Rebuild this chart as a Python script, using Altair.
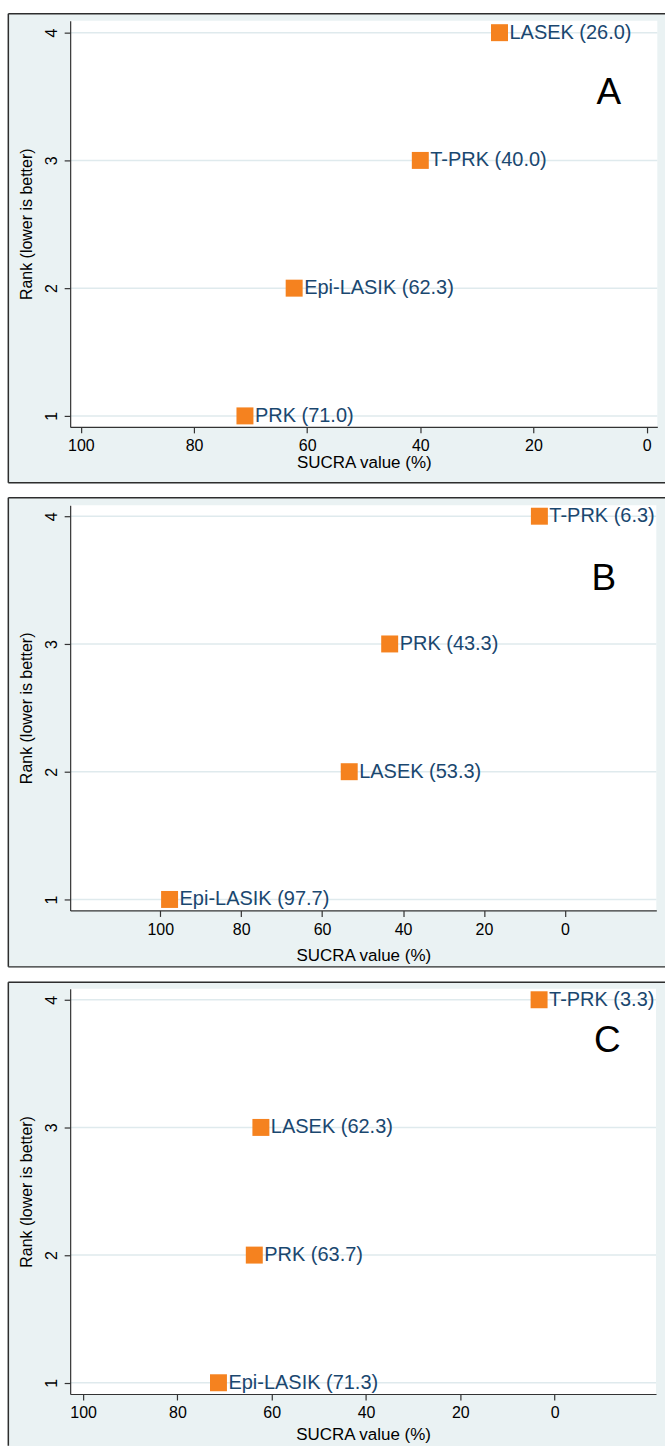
import altair as alt
import pandas as pd

# SUCRA value (%) and rank of each treatment, one set per outcome panel
treat_a = ["PRK", "Epi-LASIK", "T-PRK", "LASEK"]
sucra_a = [71.0, 62.3, 40.0, 26.0]
rank_a = [1, 2, 3, 4]

treat_b = ["Epi-LASIK", "LASEK", "PRK", "T-PRK"]
sucra_b = [97.7, 53.3, 43.3, 6.3]
rank_b = [1, 2, 3, 4]

treat_c = ["Epi-LASIK", "PRK", "LASEK", "T-PRK"]
sucra_c = [71.3, 63.7, 62.3, 3.3]
rank_c = [1, 2, 3, 4]

x_ticks = [0, 20, 40, 60, 80, 100]
y_ticks = [1, 2, 3, 4]

FONT = "Liberation Sans"
BG = "#eaf2f3"
GRID = "#dfeaed"
ORANGE = "#f5821f"
NAVY = "#1a476f"
FRAME = "#2e2e2e"
AXIS = "#333333"

one = alt.Data(values=[{}])


def panel(letter, names, vals, ranks, W, H, xdom, ydom, frame, letter_xy,
          x_title_pad, bottom_edge=True):
    L, T, R, B = frame
    df = pd.DataFrame({"treatment": names, "sucra": vals, "rank": ranks})
    df["label"] = [f"{n} ({v:.1f})" for n, v in zip(names, vals)]

    x_enc = alt.X(
        "sucra:Q",
        scale=alt.Scale(domain=xdom, reverse=True, nice=False, zero=False),
        axis=alt.Axis(values=x_ticks, title="SUCRA value (%)", labelFontSize=16,
                      titleFontSize=17, labelPadding=5, titlePadding=x_title_pad,
                      zindex=2, grid=False),
    )
    y_enc = alt.Y(
        "rank:Q",
        scale=alt.Scale(domain=ydom, nice=False, zero=False),
        axis=alt.Axis(values=y_ticks, format="d", title="Rank (lower is better)",
                      labelAngle=270, labelFontSize=16, titleFontSize=16,
                      labelPadding=5, titlePadding=9, zindex=2, grid=False),
    )

    # graph region behind the whole panel
    bg = alt.Chart(one).mark_rect(fill=BG, strokeWidth=0).encode(
        x=alt.value(-L), x2=alt.value(W + R), y=alt.value(-T), y2=alt.value(H + B)
    )
    # white plot region
    plot_bg = alt.Chart(one).mark_rect(fill="white", strokeWidth=0).encode(
        x=alt.value(0), x2=alt.value(W), y=alt.value(0), y2=alt.value(H)
    )
    # outline of the graph region
    edges = [
        alt.Chart(one).mark_rule(color=FRAME, strokeWidth=1.5).encode(
            x=alt.value(-L + 0.75), y=alt.value(-T + 0.75), y2=alt.value(H + B - 0.75)
        ),
        alt.Chart(one).mark_rule(color=FRAME, strokeWidth=1.5).encode(
            x=alt.value(-L + 0.75), x2=alt.value(W + R), y=alt.value(-T + 0.75)
        ),
    ]
    if bottom_edge:
        edges.append(
            alt.Chart(one).mark_rule(color=FRAME, strokeWidth=1.5).encode(
                x=alt.value(-L + 0.75), x2=alt.value(W + R), y=alt.value(H + B - 0.75)
            )
        )
    grid = alt.Chart(df).mark_rule(color=GRID, strokeWidth=1.5).encode(
        y=y_enc, x=alt.value(0), x2=alt.value(W)
    )
    points = alt.Chart(df).mark_point(
        shape="square", filled=True, size=289, color=ORANGE, opacity=1
    ).encode(x=x_enc, y=y_enc)
    labels = alt.Chart(df).mark_text(
        align="left", baseline="middle", dx=10, fontSize=20, font=FONT, color=NAVY
    ).encode(x=x_enc, y=y_enc, text="label:N")
    tag = alt.Chart(one).mark_text(
        text=letter, fontSize=37, font=FONT, color="black", align="center", baseline="middle"
    ).encode(x=alt.value(letter_xy[0]), y=alt.value(letter_xy[1]))

    return alt.layer(bg, plot_bg, *edges, grid, points, labels, tag).properties(
        width=W, height=H
    )


pa = panel("A", treat_a, sucra_a, rank_a, 588.3, 407, [-1.9, 101.9], [0.914, 4.094],
           (62.7, 7.7, 7.7, 56.7), (539.7, 72), 1)
pb = panel("B", treat_b, sucra_b, rank_b, 587.3, 406, [-22.6, 122.27], [0.914, 4.086],
           (62.7, 8.3, 8.7, 57.3), (534.7, 74), 10)
pc = panel("C", treat_c, sucra_c, rank_c, 587.0, 406, [-21.5, 102.75], [0.912, 4.086],
           (62.7, 7.4, 9.0, 52.5), (538.3, 52), 6, bottom_edge=False)

chart = (
    alt.concat(pa, pb, pc, columns=1, spacing=12.5, bounds="full")
    .resolve_scale(x="independent", y="independent")
    .properties(padding={"left": 7.3, "top": 11.3, "right": 0, "bottom": 0},
                background="white")
    .configure_view(strokeWidth=0)
    .configure_axis(
        domainColor=AXIS, domainWidth=1.2, tickColor=AXIS, tickWidth=1.2,
        tickSize=6, labelFont=FONT, titleFont=FONT, labelColor="black",
        titleColor="black", titleFontWeight="normal",
    )
)

chart.save("out.html", embed_options={"renderer": "svg", "actions": False})
